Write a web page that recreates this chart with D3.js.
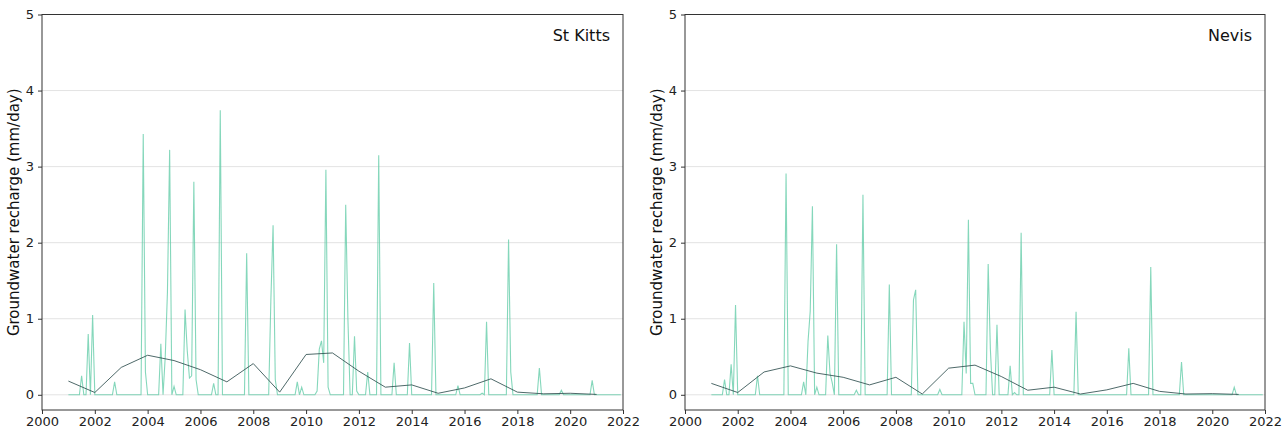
<!DOCTYPE html>
<html><head><meta charset="utf-8">
<script src="https://cdn.jsdelivr.net/npm/d3@7"></script>
<style>
body{margin:0;background:#fff}
text{font-family:"DejaVu Sans",sans-serif}
</style>
</head><body>
<svg id="c" width="1288" height="430"></svg>
<script>
// Monthly recharge (mm/day), one row per year 2001..2021, Jan..Dec
const startYear = 2001;
const kittsMonthly = [
  [0,0,0,0,0,0,0.25,0,0,0.8,0,1.05],      // 2001
  [0,0,0,0,0,0,0,0,0,0.17,0,0],           // 2002
  [0,0,0,0,0,0,0,0,0,0,3.43,0.3],         // 2003
  [0,0,0,0,0,0,0.67,0,0.5,1.35,3.22,0],   // 2004
  [0.11,0,0,0,0,1.12,0.58,0.22,0.25,2.8,0.2,0], // 2005
  [0,0,0,0,0,0,0.15,0,0,3.74,0,0],        // 2006
  [0,0,0,0,0,0,0,0,0,1.86,0,0],           // 2007
  [0,0,0,0,0,0,0,0,1.25,2.23,0.2,0],      // 2008
  [0,0,0,0,0,0,0,0,0.17,0,0.1,0],         // 2009
  [0,0,0,0,0,0.05,0.6,0.71,0.42,2.96,0.1,0], // 2010
  [0,0,0,0,0,0,2.5,1.0,0,0,0.77,0.05],    // 2011
  [0,0,0,0,0.3,0,0,0,0,3.15,0,0],         // 2012
  [0,0,0,0,0.42,0,0,0,0,0,0,0.68],        // 2013
  [0,0,0,0,0,0,0,0,0,0,1.47,0],           // 2014
  [0,0,0,0,0,0,0,0,0,0.12,0,0],           // 2015
  [0,0,0,0,0,0,0,0,0.02,0,0.96,0],        // 2016
  [0,0,0,0,0,0,0,0,2.04,0.3,0,0],         // 2017
  [0,0,0,0,0,0,0,0,0,0,0.35,0],           // 2018
  [0,0,0,0,0,0,0,0,0.06,0,0,0],           // 2019
  [0,0,0,0,0,0,0,0,0,0,0.19,0],           // 2020
  [0,0,0,0,0,0,0,0,0,0,0,0]               // 2021
];
const nevisMonthly = [
  [0,0,0,0,0,0,0.2,0,0,0.4,0,1.18],       // 2001
  [0,0,0,0,0,0,0,0,0,0.25,0,0],           // 2002
  [0,0,0,0,0,0,0,0,0,0,2.91,0],           // 2003
  [0,0,0,0,0,0,0.17,0,0.7,1.1,2.48,0],    // 2004
  [0.1,0,0,0,0,0.78,0.28,0.16,0,1.98,0,0],// 2005
  [0,0,0,0,0,0,0.06,0,0,2.63,0,0],        // 2006
  [0,0,0,0,0,0,0,0,0,1.45,0,0],           // 2007
  [0,0,0,0,0,0,0,0,1.25,1.38,0,0],        // 2008
  [0,0,0,0,0,0,0,0,0.07,0,0,0],           // 2009
  [0,0,0,0,0,0,0,0.96,0.28,2.3,0.15,0.15],// 2010
  [0,0,0,0,0,0,1.72,0.6,0,0,0.92,0],      // 2011
  [0,0,0,0,0.38,0,0.03,0,0,2.13,0,0],     // 2012
  [0,0,0,0,0,0,0,0,0,0,0,0.59],           // 2013
  [0,0,0,0,0,0,0,0,0,0,1.09,0],           // 2014
  [0,0,0,0,0,0,0,0,0,0,0,0],              // 2015
  [0,0,0,0,0,0,0,0,0,0,0.61,0],           // 2016
  [0,0,0,0,0,0,0,0,1.68,0,0,0],           // 2017
  [0,0,0,0,0,0,0,0,0,0,0.43,0],           // 2018
  [0,0,0,0,0,0,0,0,0,0,0,0],              // 2019
  [0,0,0,0,0,0,0,0,0,0,0.1,0],            // 2020
  [0,0,0,0,0,0,0,0,0,0,0,0]               // 2021
];
// Annual means, plotted at 1 Jan of each year 2001..2021
const annualYears = d3.range(2001, 2022);
const kittsAnnual = [0.18,0.03,0.36,0.52,0.45,0.33,0.17,0.41,0.035,0.53,0.55,0.31,0.10,0.13,0.02,0.09,0.21,0.035,0.013,0.02,0.005];
const nevisAnnual = [0.15,0.03,0.30,0.38,0.285,0.23,0.13,0.23,0.01,0.35,0.39,0.24,0.06,0.10,0.01,0.065,0.15,0.045,0.01,0.015,0.005];
const xTicks = d3.range(2000, 2023, 2);
const yTicks = [0,1,2,3,4,5];
const titles = ["St Kitts", "Nevis"];
const yLabel = "Groundwater recharge (mm/day)";

const layout = [{left:42, right:623}, {left:685, right:1265}];
const plotTop = 14.5, plotBottom = 410;
const svg = d3.select("#c");

const series = [kittsMonthly, nevisMonthly];
const annual = [kittsAnnual, nevisAnnual];

series.forEach((monthly, i) => {
  const L = layout[i];
  const x = d3.scaleLinear().domain([2000, 2022]).range([L.left, L.right]);
  const y = d3.scaleLinear().domain([-0.2, 5]).range([plotBottom, plotTop]);
  const g = svg.append("g");

  // grid
  g.selectAll(".grid").data(yTicks).enter().append("line")
    .attr("x1", L.left).attr("x2", L.right)
    .attr("y1", d => y(d)).attr("y2", d => y(d))
    .attr("stroke", "#e3e3e3").attr("stroke-width", 1);

  const pts = [];
  monthly.forEach((row, yi) => row.forEach((v, mi) => pts.push([startYear + yi + mi/12, v])));

  g.append("path").datum(pts)
    .attr("fill", "none").attr("stroke", "#66cdaa").attr("stroke-opacity", 0.8)
    .attr("stroke-width", 1.1)
    .attr("d", d3.line().x(d => x(d[0])).y(d => y(d[1])));

  g.append("path").datum(annualYears.map((yr, k) => [yr, annual[i][k]]))
    .attr("fill", "none").attr("stroke", "#2f4f4f").attr("stroke-opacity", 0.85)
    .attr("stroke-width", 1)
    .attr("d", d3.line().x(d => x(d[0])).y(d => y(d[1])));

  // axes
  const ax = g.append("g").attr("transform", `translate(0,${plotBottom})`)
    .call(d3.axisBottom(x).tickValues(xTicks).tickFormat(d3.format("d")).tickSize(4).tickPadding(3));
  const ay = g.append("g").attr("transform", `translate(${L.left},0)`)
    .call(d3.axisLeft(y).tickValues(yTicks).tickFormat(d3.format("d")).tickSize(4).tickPadding(4));
  [ax, ay].forEach(a => {
    a.select(".domain").remove();
    a.selectAll("line").attr("stroke", "#333");
    a.selectAll("text").attr("font-size", 13).attr("fill", "#222").attr("font-family", "DejaVu Sans");
  });

  // frame
  g.append("rect").attr("x", L.left).attr("y", plotTop).attr("width", L.right - L.left).attr("height", plotBottom - plotTop)
    .attr("fill", "none").attr("stroke", "#333").attr("stroke-width", 1);

  g.append("text").attr("x", L.right - 13).attr("y", 41).attr("text-anchor", "end")
    .attr("font-size", 16).attr("fill", "#111").text(titles[i]);

  g.append("text").attr("transform", `translate(${L.left - 23},${(plotTop + plotBottom)/2}) rotate(-90)`)
    .attr("text-anchor", "middle").attr("font-size", 15).attr("fill", "#111").text(yLabel);
});
</script>
</body></html>
